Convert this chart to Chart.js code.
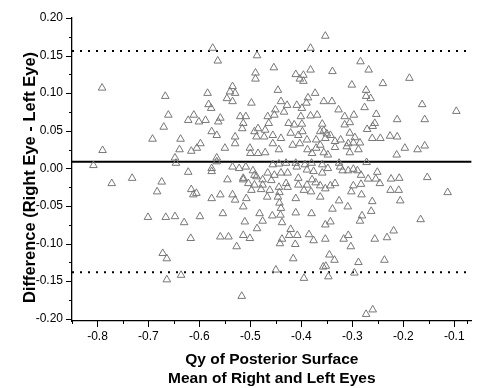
<!DOCTYPE html>
<html>
<head>
<meta charset="utf-8">
<script src="https://cdn.jsdelivr.net/npm/chart.js@4.4.0/dist/chart.umd.min.js"></script>
<style>
    html, body { margin: 0; padding: 0; background: #fff; }
    #wrap { width: 477px; height: 388px; }
</style>
</head>
<body>
<div id="wrap"><canvas id="blandAltman" width="477" height="388"></canvas></div>
<script>
// Mean Qy of both eyes (x) and right-left difference (y), one entry per subject
const meanQy = [
    -0.791, -0.790, -0.808, -0.772, -0.667, -0.661, -0.611, -0.622, -0.601, -0.670,
    -0.692, -0.637, -0.639, -0.616, -0.605, -0.598, -0.648, -0.646, -0.622, -0.732,
    -0.674, -0.683, -0.616, -0.612, -0.606, -0.701, -0.666, -0.648, -0.630, -0.599,
    -0.617, -0.672, -0.664, -0.664, -0.636, -0.353, -0.574, -0.487, -0.564, -0.382,
    -0.454, -0.490, -0.490, -0.411, -0.396, -0.382, -0.403, -0.396, -0.535, -0.540,
    -0.530, -0.584, -0.446, -0.546, -0.535, -0.498, -0.440, -0.428, -0.409, -0.387,
    -0.373, -0.390, -0.399, -0.356, -0.582, -0.577, -0.451, -0.434, -0.284, -0.339,
    -0.268, -0.188, -0.240, -0.301, -0.273, -0.273, -0.264, -0.340, -0.276, -0.327,
    -0.163, -0.096, -0.253, -0.315, -0.297, -0.212, -0.158, -0.315, -0.305, -0.256,
    -0.271, -0.260, -0.356, -0.350, -0.343, -0.305, -0.295, -0.261, -0.245, -0.226,
    -0.212, -0.334, -0.323, -0.308, -0.298, -0.285, -0.334, -0.311, -0.288, -0.305,
    -0.348, -0.197, -0.172, -0.158, -0.213, -0.326, -0.272, -0.324, -0.348, -0.319,
    -0.308, -0.298, -0.290, -0.283, -0.251, -0.269, -0.254, -0.246, -0.224, -0.208,
    -0.153, -0.334, -0.343, -0.353, -0.298, -0.283, -0.302, -0.282, -0.225, -0.209,
    -0.113, -0.261, -0.206, -0.326, -0.309, -0.339, -0.263, -0.281, -0.166, -0.285,
    -0.353, -0.343, -0.219, -0.353, -0.317, -0.308, -0.256, -0.232, -0.303, -0.345,
    -0.335, -0.288, -0.237, -0.352, -0.357, -0.347, -0.296, -0.273, -0.260, -0.554,
    -0.482, -0.457, -0.441, -0.411, -0.380, -0.511, -0.476, -0.438, -0.487, -0.421,
    -0.559, -0.543, -0.514, -0.501, -0.424, -0.408, -0.438, -0.442, -0.412, -0.385,
    -0.376, -0.527, -0.416, -0.450, -0.395, -0.517, -0.588, -0.563, -0.559, -0.520,
    -0.509, -0.514, -0.516, -0.466, -0.453, -0.464, -0.485, -0.471, -0.425, -0.414,
    -0.401, -0.382, -0.369, -0.359, -0.576, -0.566, -0.492, -0.488, -0.473, -0.456,
    -0.440, -0.421, -0.406, -0.398, -0.389, -0.363, -0.371, -0.353, -0.530, -0.530,
    -0.550, -0.501, -0.485, -0.471, -0.456, -0.444, -0.417, -0.403, -0.388, -0.371,
    -0.363, -0.356, -0.379, -0.500, -0.566, -0.566, -0.576, -0.576, -0.535, -0.522,
    -0.509, -0.495, -0.456, -0.444, -0.430, -0.411, -0.409, -0.393, -0.380, -0.359,
    -0.389, -0.376, -0.359, -0.514, -0.514, -0.492, -0.488, -0.453, -0.440, -0.427,
    -0.406, -0.379, -0.545, -0.476, -0.459, -0.504, -0.492, -0.476, -0.430, -0.406,
    -0.389, -0.372, -0.363, -0.498, -0.479, -0.462, -0.444, -0.427, -0.443, -0.395,
    -0.381, -0.576, -0.559, -0.535, -0.530, -0.446, -0.443, -0.440, -0.411, -0.363,
    -0.514, -0.399, -0.508, -0.467, -0.466
];
const diffQy = [
    0.107, 0.024, 0.004, -0.020, 0.096, 0.071, 0.071, 0.064, 0.062, 0.055,
    0.039, 0.039, 0.025, 0.023, 0.027, 0.033, 0.014, 0.007, -0.005, -0.013,
    -0.018, -0.031, -0.028, -0.035, -0.033, -0.065, -0.065, -0.064, -0.072, -0.064,
    -0.093, -0.113, -0.120, -0.148, -0.142, 0.176, 0.160, 0.150, 0.143, 0.160,
    0.134, 0.127, 0.119, 0.125, 0.124, 0.131, 0.119, 0.116, 0.109, 0.102,
    0.100, 0.100, 0.104, 0.093, 0.089, 0.087, 0.089, 0.084, 0.084, 0.094,
    0.100, 0.087, 0.080, 0.089, 0.085, 0.080, 0.078, 0.075, 0.142, 0.129,
    0.131, 0.120, 0.113, 0.111, 0.104, 0.096, 0.093, 0.089, 0.081, 0.078,
    0.085, 0.076, 0.072, 0.069, 0.071, 0.065, 0.065, 0.058, 0.061, 0.060,
    0.052, 0.056, 0.050, 0.046, 0.044, 0.047, 0.041, 0.040, 0.040, 0.043,
    0.042, 0.036, 0.038, 0.033, 0.034, 0.034, 0.028, 0.029, 0.025, 0.021,
    0.018, 0.027, 0.025, 0.030, 0.018, 0.007, 0.008, 0.002, 0.000, -0.003,
    -0.003, -0.001, -0.003, -0.009, -0.005, -0.014, -0.014, -0.020, -0.014, -0.013,
    -0.012, -0.020, -0.023, -0.027, -0.023, -0.021, -0.031, -0.035, -0.029, -0.029,
    -0.032, -0.044, -0.043, -0.043, -0.051, -0.054, -0.057, -0.063, -0.068, -0.070,
    -0.075, -0.071, -0.083, -0.094, -0.094, -0.089, -0.094, -0.092, -0.104, -0.115,
    -0.122, -0.125, -0.122, -0.130, -0.131, -0.144, -0.139, -0.194, -0.188, -0.060,
    -0.060, -0.063, -0.062, -0.059, -0.060, -0.071, -0.070, -0.072, -0.080, -0.081,
    -0.091, -0.091, -0.089, -0.093, -0.089, -0.089, -0.094, -0.100, -0.101, -0.088,
    -0.096, -0.104, -0.120, -0.135, -0.146, -0.170, 0.064, 0.062, 0.067, 0.069,
    0.069, 0.060, 0.053, 0.069, 0.071, 0.060, 0.053, 0.051, 0.060, 0.058,
    0.069, 0.070, 0.071, 0.059, 0.049, 0.044, 0.049, 0.042, 0.042, 0.044,
    0.040, 0.047, 0.044, 0.049, 0.038, 0.049, 0.038, 0.040, 0.042, 0.033,
    0.027, 0.027, 0.020, 0.021, 0.033, 0.025, 0.031, 0.033, 0.025, 0.027,
    0.031, 0.021, 0.020, 0.020, 0.014, 0.009, 0.000, -0.004, 0.002, 0.000,
    0.002, -0.003, 0.005, 0.006, 0.007, 0.007, 0.002, 0.005, 0.007, 0.005,
    -0.002, -0.004, -0.006, -0.013, -0.015, -0.009, -0.011, -0.009, -0.006, -0.006,
    -0.013, -0.015, -0.015, -0.015, -0.016, -0.020, -0.022, -0.022, -0.020, -0.022,
    -0.022, -0.019, -0.023, -0.029, -0.028, -0.029, -0.025, -0.025, -0.032, -0.029,
    -0.031, -0.040, -0.035, -0.035, -0.042, -0.038, -0.046, -0.053, -0.040, -0.038,
    -0.051, 0.059, -0.040, -0.038, -0.006
];

// Mean difference and 95% limits of agreement
const meanDiff = 0.0089;
const upperLoA = 0.156;
const lowerLoA = -0.138;

// Axis ranges and tick positions
const xMin = -0.85, xMax = -0.066;
const yMin = -0.203, yMax = 0.20;
const xTicks = [-0.85, -0.8, -0.75, -0.7, -0.65, -0.6, -0.55, -0.5, -0.45, -0.4,
                -0.35, -0.3, -0.25, -0.2, -0.15, -0.1, -0.075];
const yTicks = [-0.2, -0.175, -0.15, -0.125, -0.1, -0.075, -0.05, -0.025, 0,
                0.025, 0.05, 0.075, 0.1, 0.125, 0.15, 0.175, 0.2];
const xMajor = [-0.8, -0.7, -0.6, -0.5, -0.4, -0.3, -0.2, -0.1];
const yMajor = [-0.2, -0.15, -0.1, -0.05, 0, 0.05, 0.1, 0.15, 0.2];

const xTitle = ['Qy of Posterior Surface', 'Mean of Right and Left Eyes'];
const yTitle = 'Difference (Right Eye - Left Eye)';

const FONT = "'Liberation Sans', Arial, sans-serif";
const isMajor = (v, list) => list.some(m => Math.abs(m - v) < 1e-9);

// outward ticks, long on labelled values and short in between
const tickMarks = {
    id: 'tickMarks',
    afterDraw(chart) {
        const { ctx, chartArea, scales: { x, y } } = chart;
        ctx.save();
        ctx.strokeStyle = '#000';
        ctx.lineWidth = 1;
        ctx.beginPath();
        x.ticks.forEach(t => {
            const px = Math.round(x.getPixelForValue(t.value)) + 0.5;
            const len = isMajor(t.value, xMajor) ? 6 : 3;
            ctx.moveTo(px, chartArea.bottom);
            ctx.lineTo(px, chartArea.bottom + len);
        });
        y.ticks.forEach(t => {
            const py = Math.round(y.getPixelForValue(t.value)) + 0.5;
            const len = isMajor(t.value, yMajor) ? 6 : 3;
            ctx.moveTo(chartArea.left, py);
            ctx.lineTo(chartArea.left - len, py);
        });
        ctx.stroke();
        ctx.restore();
    }
};

// vertical axis title, sits a little below the middle of the axis
const sideTitle = {
    id: 'sideTitle',
    afterDraw(chart) {
        const { ctx, chartArea } = chart;
        ctx.save();
        ctx.translate(30.5, (chartArea.top + chartArea.bottom) / 2 + 8);
        ctx.rotate(-Math.PI / 2);
        ctx.font = `bold 16.5px ${FONT}`;
        ctx.fillStyle = '#000';
        ctx.textAlign = 'center';
        ctx.textBaseline = 'middle';
        ctx.fillText(yTitle, 0, 0);
        ctx.restore();
    }
};

const points = meanQy.map((v, i) => ({ x: v, y: diffQy[i] }));
const hLine = v => [{ x: xMin, y: v }, { x: xMax, y: v }];

new Chart(document.getElementById('blandAltman'), {
    data: {
        datasets: [
            {
                type: 'scatter',
                data: points,
                pointStyle: 'triangle',
                pointRadius: 4.4,
                borderColor: '#777',
                borderWidth: 1,
                backgroundColor: 'rgba(0,0,0,0)'
            },
            {
                type: 'line',
                data: hLine(meanDiff),
                borderColor: '#000',
                borderWidth: 2,
                pointRadius: 0
            },
            {
                type: 'line',
                data: hLine(upperLoA),
                borderColor: '#000',
                borderWidth: 2,
                borderDash: [2, 6],
                pointRadius: 0
            },
            {
                type: 'line',
                data: hLine(lowerLoA),
                borderColor: '#000',
                borderWidth: 2,
                borderDash: [2, 6],
                pointRadius: 0
            }
        ]
    },
    options: {
        responsive: false,
        animation: false,
        devicePixelRatio: 1,
        events: [],
        layout: { padding: { top: 18, right: 0, left: 0, bottom: 0 } },
        plugins: { legend: { display: false }, tooltip: { enabled: false } },
        scales: {
            x: {
                type: 'linear',
                position: 'bottom',
                min: xMin,
                max: xMax,
                afterBuildTicks: s => { s.ticks = xTicks.map(v => ({ value: v })); },
                afterFit: s => { s.height = 67; },
                grid: { drawOnChartArea: false, drawTicks: true, tickLength: 6, tickColor: 'rgba(0,0,0,0)' },
                border: { display: true, color: '#000', width: 1.3 },
                ticks: {
                    autoSkip: false,
                    maxRotation: 0,
                    padding: 2,
                    color: '#000',
                    font: { family: FONT, size: 12 },
                    callback: v => isMajor(v, xMajor) ? v.toFixed(1) : ''
                },
                title: {
                    display: true,
                    text: xTitle,
                    color: '#000',
                    font: { family: FONT, size: 15.5, weight: 'bold', lineHeight: 1.226 },
                    padding: { top: 0, bottom: 0 }
                }
            },
            y: {
                type: 'linear',
                min: yMin,
                max: yMax,
                afterBuildTicks: s => { s.ticks = yTicks.map(v => ({ value: v })); },
                afterFit: s => { s.width = 72; },
                grid: { drawOnChartArea: false, drawTicks: true, tickLength: 6, tickColor: 'rgba(0,0,0,0)' },
                border: { display: true, color: '#000', width: 1.3 },
                ticks: {
                    autoSkip: false,
                    padding: 3,
                    color: '#000',
                    font: { family: FONT, size: 12 },
                    callback: v => isMajor(v, yMajor) ? v.toFixed(2) : ''
                },
                title: { display: false }
            }
        }
    },
    plugins: [tickMarks, sideTitle]
});
</script>
</body>
</html>
